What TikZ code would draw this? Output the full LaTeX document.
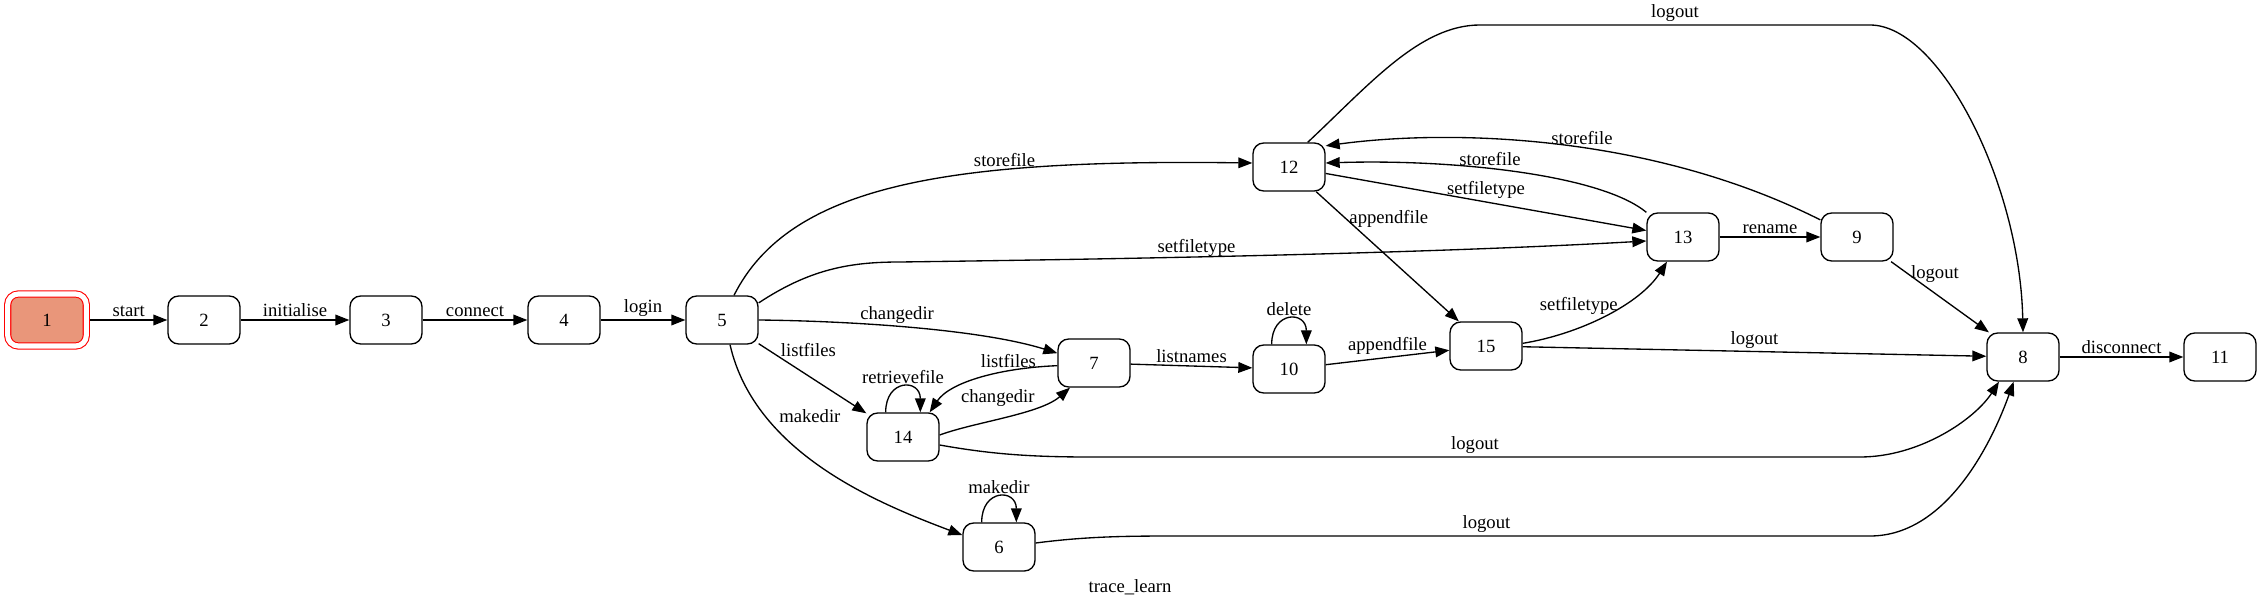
\documentclass[tikz,border=0pt]{standalone}
\usepackage{fontspec}
\setmainfont{Liberation Serif}
\usetikzlibrary{arrows.meta,positioning}
\definecolor{salmonfill}{RGB}{233,150,122}
\tikzset{
  state/.style={draw, rounded corners=8pt, minimum width=54pt, minimum height=36pt, line width=1pt},
  firststate/.style={state, draw=red, fill=salmonfill, double=white, double distance=3.8pt,
    line width=0.8pt, minimum width=59pt, minimum height=39pt},
  trans/.style={-{Triangle[length=10.5pt,width=8pt]}, line width=1pt},
  lbl/.style={inner sep=2pt},
}
\begin{document}
\begin{tikzpicture}[x=0.75pt, y=0.75pt, font=\fontsize{14}{17}\selectfont]
  \useasboundingbox (0,0) rectangle (2263,604);
  % states
  \node[firststate] (n1) at (47,284) {1};
  \node[state] (n2) at (204,284) {2};
  \node[state] (n3) at (386,284) {3};
  \node[state] (n4) at (564,284) {4};
  \node[state] (n5) at (722,284) {5};
  \node[state] (n12) at (1289,437) {12};
  \node[state] (n13) at (1683,367) {13};
  \node[state] (n9) at (1857,367) {9};
  \node[state] (n7) at (1094,241) {7};
  \node[state] (n10) at (1289,235) {10};
  \node[state] (n15) at (1486,258) {15};
  \node[state] (n8) at (2023,247) {8};
  \node[state] (n11) at (2220,247) {11};
  \node[state] (n14) at (903,167) {14};
  \node[state] (n6) at (999,57) {6};
  \node (title) at (1130,17) {trace\_learn};
  % chain
  \draw[trans] ([xshift=2.5pt]n1.east) -- node[lbl, above] {start} (n2);
  \draw[trans] (n2) -- node[lbl, above] {initialise} (n3);
  \draw[trans] (n3) -- node[lbl, above] {connect} (n4);
  \draw[trans] (n4) -- node[lbl, above] {login} (n5);
  % from 5
  \draw[trans] ([xshift=9pt]n5.north) .. controls (790,420) and (950,445) .. ([yshift=3pt]n12.west)
    node[lbl, pos=.68, above] {storefile};
  \draw[trans] (n5.25) .. controls (810,335) and (850,342) .. (900,342)
    .. controls (1200,346) and (1450,352) .. ([yshift=-3pt]n13.west)
    node[lbl, pos=.35, above=-2pt] {setfiletype};
  \draw[trans] (n5.east) .. controls (850,283) and (980,275) .. (n7.165)
    node[lbl, pos=.45, above] {changedir};
  \draw[trans] (n5) -- node[lbl, pos=.2, above right, inner sep=0pt] {listfiles} (n14);
  \draw[trans] ([xshift=6pt]n5.south) .. controls (755,150) and (880,100) .. (n6.162)
    node[lbl, pos=.25, right=8pt] {makedir};
  % from 12
  \draw[trans] ([xshift=14pt]n12.north) .. controls (1370,520) and (1420,579) .. (1480,579)
    -- node[lbl, above] {logout} (1870,579)
    .. controls (1940,579) and (2020,420) .. (n8.north);
  \draw[trans] (n12.-10) -- node[lbl, above] {setfiletype} (n13.170);
  \draw[trans] (n12) -- node[lbl, pos=.21, right] {appendfile} (n15);
  % from 13 and 9
  \draw[trans] (n13.north west) .. controls (1600,430) and (1450,445) .. ([yshift=3pt]n12.east)
    node[lbl, pos=.57, above] {storefile};
  \draw[trans] (n13) -- node[lbl, above] {rename} (n9);
  \draw[trans] (n9.155) .. controls (1650,470) and (1450,475) .. (n12.30)
    node[lbl, pos=.45, above] {storefile};
  \draw[trans] (n9) -- node[lbl, pos=.17, right] {logout} (n8);
  % 7, 14, 10
  \draw[trans] ([yshift=-2pt]n7.west) .. controls (1000,236) and (950,222) .. ([xshift=20pt]n14.north)
    node[lbl, pos=.3, above] {listfiles};
  \draw[trans] ([yshift=1.5pt]n14.east) .. controls (975,182) and (1040,190) .. ([xshift=-18pt]n7.south)
    node[lbl, pos=.7, above left, inner sep=0pt] {changedir};
  \draw[trans] ([xshift=-13pt]n14.north) to[out=90, in=90, looseness=2.5]
    node[lbl, above] {retrievefile} ([xshift=13pt]n14.north);
  \draw[trans] (n7) -- node[lbl, above] {listnames} (n10);
  \draw[trans] ([xshift=-13pt]n10.north) to[out=90, in=90, looseness=2.5]
    node[lbl, above] {delete} ([xshift=13pt]n10.north);
  \draw[trans] (n10) -- node[lbl, above] {appendfile} (n15);
  % from 15
  \draw[trans] ([yshift=2pt]n15.east) .. controls (1580,270) and (1640,300) .. ([xshift=-12pt]n13.south)
    node[lbl, pos=.6, left] {setfiletype};
  \draw[trans] (n15) -- node[lbl, above] {logout} (n8);
  % 14 and 6 to 8
  \draw[trans] ([yshift=-6pt]n14.east) .. controls (990,150) and (1030,147) .. (1090,147)
    -- node[lbl, above] {logout} (1860,147)
    .. controls (1920,147) and (1975,185) .. ([xshift=-18pt]n8.south);
  \draw[trans] ([yshift=3pt]n6.east) .. controls (1090,68) and (1130,68) .. (1185,68)
    -- node[lbl, pos=.44, above] {logout} (1870,68)
    .. controls (1950,68) and (1995,170) .. ([xshift=-7pt]n8.south);
  \draw[trans] ([xshift=-13pt]n6.north) to[out=90, in=90, looseness=2.5]
    node[lbl, above] {makedir} ([xshift=13pt]n6.north);
  % end
  \draw[trans] (n8) -- node[lbl, above] {disconnect} (n11);
\end{tikzpicture}
\end{document}
